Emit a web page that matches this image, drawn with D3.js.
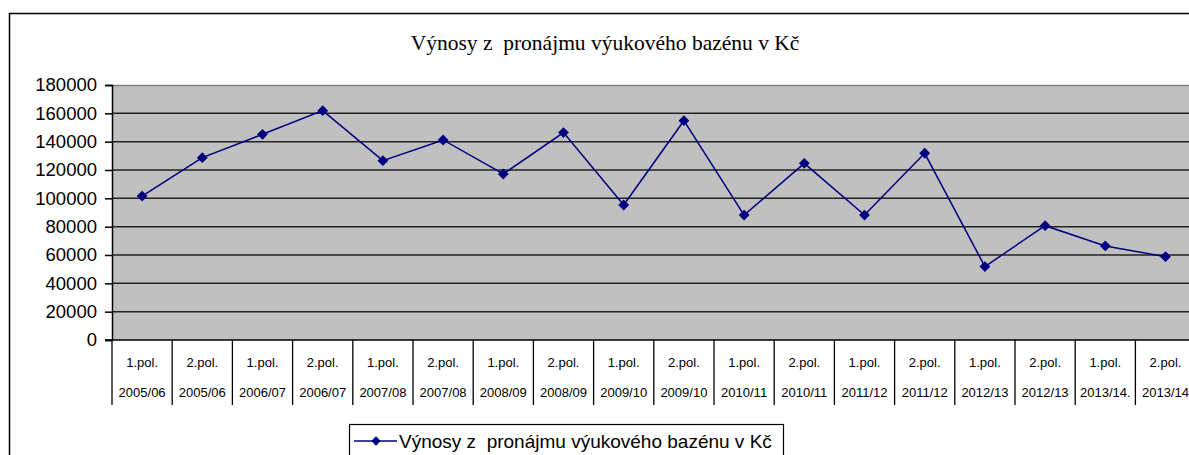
<!DOCTYPE html>
<html>
<head>
<meta charset="utf-8">
<script src="https://cdn.jsdelivr.net/npm/d3@7"></script>
<style>
  body { margin: 0; background: #fff; }
  svg { display: block; }
  text { white-space: pre; }
</style>
</head>
<body>
<script>
var halves = ["1.pol.", "2.pol.", "1.pol.", "2.pol.", "1.pol.", "2.pol.", "1.pol.", "2.pol.", "1.pol.",
              "2.pol.", "1.pol.", "2.pol.", "1.pol.", "2.pol.", "1.pol.", "2.pol.", "1.pol.", "2.pol."];
var years = ["2005/06", "2005/06", "2006/07", "2006/07", "2007/08", "2007/08", "2008/09", "2008/09", "2009/10",
             "2009/10", "2010/11", "2010/11", "2011/12", "2011/12", "2012/13", "2012/13", "2013/14.", "2013/14"];
var values = [101600, 128700, 145200, 161900, 126600, 141200, 117200, 146400, 95300,
              154800, 88200, 124700, 88200, 131800, 51800, 80700, 66400, 58800];
var yTicks = [0, 20000, 40000, 60000, 80000, 100000, 120000, 140000, 160000, 180000];
var title = "Výnosy z  pronájmu výukového bazénu v Kč";

var W = 1189, H = 455;
var plotLeft = 112, plotTop = 85, plotBottom = 340, bandW = 60.2;

var svg = d3.select("body").append("svg").attr("width", W).attr("height", H);

// outer chart border
svg.append("rect").attr("x", 9.5).attr("y", 13.5).attr("width", 1200).attr("height", 500)
  .attr("fill", "#fff").attr("stroke", "#000").attr("stroke-width", 1.5);

svg.append("text").attr("x", 605).attr("y", 50).attr("text-anchor", "middle")
  .attr("font-family", "Liberation Serif, Times New Roman, serif").attr("font-size", 21.5)
  .text(title);

var x = d3.scaleBand().domain(d3.range(values.length)).range([plotLeft, plotLeft + bandW * values.length]);
var y = d3.scaleLinear().domain([0, 180000]).range([plotBottom, plotTop]);

svg.append("rect").attr("x", plotLeft).attr("y", plotTop).attr("width", bandW * values.length)
  .attr("height", plotBottom - plotTop).attr("fill", "#c0c0c0");
svg.append("line").attr("x1", plotLeft).attr("x2", W).attr("y1", plotTop + 0.5).attr("y2", plotTop + 0.5)
  .attr("stroke", "#808080").attr("stroke-width", 1.5);

// gridlines
svg.append("g").selectAll("line").data(yTicks.filter(function(d) { return d > 0 && d < 180000; }))
  .join("line")
  .attr("x1", plotLeft).attr("x2", W)
  .attr("y1", function(d) { return y(d); }).attr("y2", function(d) { return y(d); })
  .attr("stroke", "#222").attr("stroke-width", 1.5);

// y axis
var yAxis = svg.append("g").attr("transform", "translate(" + plotLeft + ",0)")
  .call(d3.axisLeft(y).tickValues(yTicks).tickSize(7).tickPadding(8).tickFormat(d3.format("d")));
yAxis.select(".domain").attr("stroke", "#000").attr("stroke-width", 1.5);
yAxis.selectAll(".tick line").attr("stroke", "#000").attr("stroke-width", 1.5);
yAxis.selectAll("text").attr("font-family", "Liberation Sans, Arial, sans-serif").attr("font-size", 18.5).attr("fill", "#000");

// x axis line
svg.append("line").attr("x1", 105).attr("x2", W).attr("y1", plotBottom).attr("y2", plotBottom)
  .attr("stroke", "#000").attr("stroke-width", 1.5);

// category dividers
svg.append("g").selectAll("line").data(d3.range(values.length + 1))
  .join("line")
  .attr("x1", function(i) { return plotLeft + i * bandW; }).attr("x2", function(i) { return plotLeft + i * bandW; })
  .attr("y1", plotBottom).attr("y2", 405)
  .attr("stroke", "#000").attr("stroke-width", 1.3);

var cats = svg.append("g").attr("font-family", "Liberation Sans, Arial, sans-serif").attr("font-size", 13)
  .attr("text-anchor", "middle");
cats.selectAll(".h").data(halves).join("text").attr("class", "h")
  .attr("x", function(d, i) { return x(i) + x.bandwidth() / 2; }).attr("y", 367).text(function(d) { return d; });
cats.selectAll(".yr").data(years).join("text").attr("class", "yr")
  .attr("x", function(d, i) { return x(i) + x.bandwidth() / 2; }).attr("y", 397).text(function(d) { return d; });

// series
var line = d3.line().x(function(d, i) { return x(i) + x.bandwidth() / 2; }).y(function(d) { return y(d); });
svg.append("path").datum(values).attr("d", line).attr("fill", "none")
  .attr("stroke", "#000080").attr("stroke-width", 1.5);

var diamond = d3.symbol().type(d3.symbolDiamond2).size(75);
svg.append("g").selectAll("path").data(values).join("path")
  .attr("d", diamond)
  .attr("transform", function(d, i) { return "translate(" + (x(i) + x.bandwidth() / 2) + "," + y(d) + ")"; })
  .attr("fill", "#000080");

// legend
var lg = svg.append("g");
lg.append("rect").attr("x", 349.5).attr("y", 424.5).attr("width", 434).attr("height", 40)
  .attr("fill", "#fff").attr("stroke", "#000").attr("stroke-width", 1.2);
lg.append("line").attr("x1", 354).attr("x2", 397).attr("y1", 441).attr("y2", 441)
  .attr("stroke", "#000080").attr("stroke-width", 1.5);
lg.append("path").attr("d", d3.symbol().type(d3.symbolDiamond2).size(55)).attr("transform", "translate(376,441)")
  .attr("fill", "#000080");
lg.append("text").attr("x", 399).attr("y", 447.5).attr("font-family", "Liberation Sans, Arial, sans-serif")
  .attr("font-size", 19).text(title);
</script>
</body>
</html>
